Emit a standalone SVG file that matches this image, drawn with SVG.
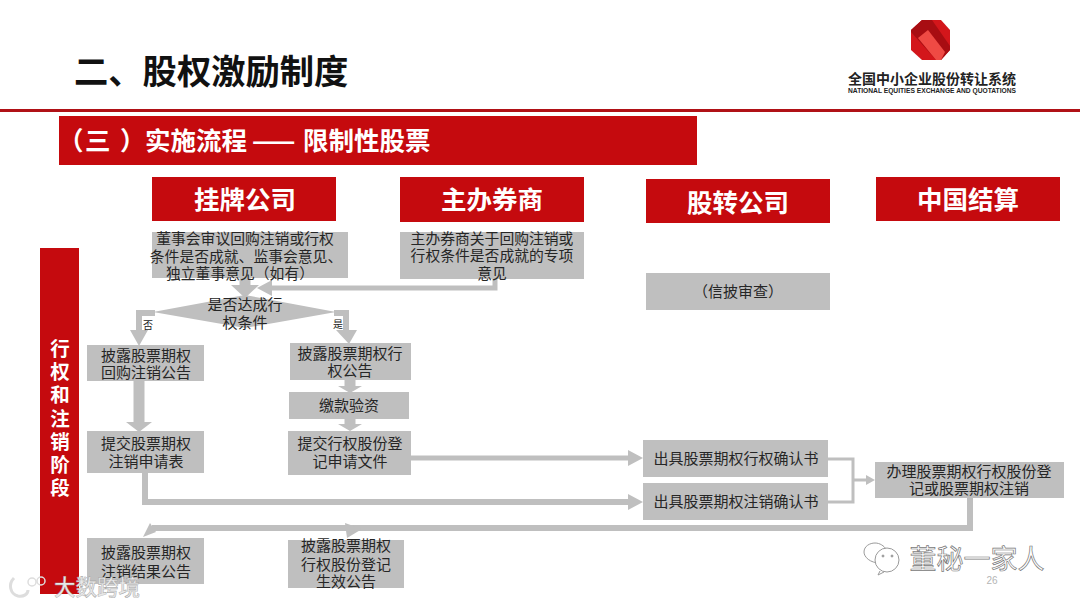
<svg xmlns="http://www.w3.org/2000/svg" width="1080" height="608" viewBox="0 0 1080 608">
<style>
text{font-family:"Noto Sans CJK SC","Noto Sans",sans-serif;text-anchor:middle}
.hd rect{fill:#c50a0e}
.hd text{fill:#fff;font-size:25.5px;font-weight:700}
.bx rect,.bx polygon{fill:#bfbfbf}
.bx text{fill:#262626;font-size:15px}
.c{fill:none;stroke:#bfbfbf;stroke-linejoin:miter}
.h{fill:#bfbfbf}
.mk{font-family:"Liberation Serif","Noto Sans CJK SC",serif;font-size:10px;fill:#222}
</style>
<rect width="1080" height="608" fill="#fff"/>
<g id="title">
<text x="74" y="84" style="text-anchor:start;font-size:34.3px;font-weight:700;fill:#111">二、股权激励制度</text>
<rect x="0" y="109" width="1080" height="3" fill="#b01116"/>
</g>
<g id="logo">
<polygon points="922,20 941,20 950,30 950,50 941,60 922,60 911,50 911,30" fill="#d3161b"/>
<polygon points="922,20 932,20 950,46 950,50 941,60 936,60 911,32 911,30" fill="#a80d12"/>
<polygon points="928,30 945,52 941,60 936,60 918,38" fill="#ef4a44"/>
<text x="932" y="84" style="font-size:14px;font-weight:700;fill:#222">全国中小企业股份转让系统</text>
<text x="932" y="93" style="font-size:7px;font-weight:700;fill:#222;font-family:'Liberation Sans',sans-serif" textLength="168" lengthAdjust="spacingAndGlyphs">NATIONAL EQUITIES EXCHANGE AND QUOTATIONS</text>
</g>
<g id="banner" class="hd">
<rect x="59" y="116" width="638" height="49"/>
<text y="150" style="text-anchor:start"><tspan x="58">（</tspan><tspan x="85">三</tspan><tspan x="120">）</tspan><tspan x="145">实施流程</tspan><tspan x="252">——</tspan><tspan x="303">限制性股票</tspan></text>
</g>
<g id="stage" class="hd">
<rect x="40" y="248" width="39" height="346"/>
<text style="font-size:19.5px"><tspan x="60" y="356">行</tspan><tspan x="60" y="379">权</tspan><tspan x="60" y="402">和</tspan><tspan x="60" y="426">注</tspan><tspan x="60" y="449">销</tspan><tspan x="60" y="472">阶</tspan><tspan x="60" y="495">段</tspan></text>
</g>
<g id="h1" class="hd"><rect x="152" y="177" width="184" height="44"/><text x="245" y="209">挂牌公司</text></g>
<g id="h2" class="hd"><rect x="400" y="177" width="184" height="45"/><text x="492" y="209">主办券商</text></g>
<g id="h3" class="hd"><rect x="646" y="179" width="184" height="44"/><text x="738" y="212">股转公司</text></g>
<g id="h4" class="hd"><rect x="876" y="177" width="184" height="44"/><text x="968" y="209">中国结算</text></g>
<g id="connectors">
<path class="c" stroke-width="11" d="M245 278V287"/>
<polygon class="h" points="231,285 259,285 245,298"/>
<path class="c" stroke-width="5" d="M495 279V288H268"/>
<polygon class="h" points="272,280 272,296 257,288"/>
<path class="c" stroke-width="6" d="M155 313H139V332"/>
<polygon class="h" points="130,330 148,330 139,346"/>
<path class="c" stroke-width="6" d="M334 313H346V332"/>
<polygon class="h" points="336,330 357,330 349,344"/>
<path class="c" stroke-width="11" d="M139 381V424"/>
<polygon class="h" points="126,422 152,422 139,432"/>
<path class="c" stroke-width="11" d="M350 380V387"/>
<polygon class="h" points="338,386 362,386 350,393"/>
<path class="c" stroke-width="11" d="M350 419V424"/>
<polygon class="h" points="338,424 362,424 350,431"/>
<path class="c" stroke-width="5" d="M411 458H632"/>
<polygon class="h" points="628,450 628,466 643,458"/>
<path class="c" stroke-width="6" d="M145 473V502H632"/>
<polygon class="h" points="628,494 628,510 643,502"/>
<path class="c" stroke-width="3" d="M828 459H853V502H828M853 480H868"/>
<polygon class="h" points="866,475 866,485 875,480"/>
<path class="c" stroke-width="6" d="M970 498V528H152"/>
<polygon class="h" points="150,523 156,532 143,537"/>
<polygon class="h" points="345,523 362,529 347,538"/>
</g>
<g id="n1" class="bx"><rect x="152" y="232" width="196" height="46"/><text style="font-size:14.8px"><tspan x="245" y="244">董事会审议回购注销或行权</tspan><tspan x="246" y="262">条件是否成就、监事会意见、</tspan><tspan x="240" y="279">独立董事意见（如有）</tspan></text></g>
<g id="n2" class="bx"><rect x="400" y="232" width="184" height="47"/><text style="font-size:14.8px"><tspan x="492" y="244">主办券商关于回购注销或</tspan><tspan x="492" y="261">行权条件是否成就的专项</tspan><tspan x="492" y="279">意见</tspan></text></g>
<g id="n3" class="bx"><rect x="646" y="273" width="184" height="37"/><text x="738" y="297">（信披审查）</text></g>
<g id="d1" class="bx"><polygon points="153,312 245,295 336,312 245,328"/><text><tspan x="245" y="310">是否达成行</tspan><tspan x="245" y="328">权条件</tspan></text></g>
<text x="148" y="329" class="mk">否</text>
<text x="338" y="328" class="mk">是</text>
<g id="n4" class="bx"><rect x="87" y="345" width="117" height="36"/><text><tspan x="146" y="361">披露股票期权</tspan><tspan x="146" y="378">回购注销公告</tspan></text></g>
<g id="n5" class="bx"><rect x="290" y="343" width="121" height="37"/><text><tspan x="350" y="359">披露股票期权行</tspan><tspan x="350" y="376">权公告</tspan></text></g>
<g id="n6" class="bx"><rect x="289" y="392" width="120" height="27"/><text x="349" y="411">缴款验资</text></g>
<g id="n7" class="bx"><rect x="87" y="431" width="117" height="42"/><text><tspan x="146" y="449">提交股票期权</tspan><tspan x="146" y="467">注销申请表</tspan></text></g>
<g id="n8" class="bx"><rect x="288" y="431" width="123" height="44"/><text><tspan x="350" y="449">提交行权股份登</tspan><tspan x="350" y="467">记申请文件</tspan></text></g>
<g id="n9" class="bx"><rect x="643" y="440" width="185" height="37"/><text x="736" y="464">出具股票期权行权确认书</text></g>
<g id="n10" class="bx"><rect x="643" y="483" width="185" height="37"/><text x="736" y="507">出具股票期权注销确认书</text></g>
<g id="n11" class="bx"><rect x="875" y="462" width="189" height="36"/><text><tspan x="969" y="477">办理股票期权行权股份登</tspan><tspan x="969" y="494">记或股票期权注销</tspan></text></g>
<g id="n12" class="bx"><rect x="87" y="538" width="117" height="46"/><text><tspan x="146" y="558">披露股票期权</tspan><tspan x="146" y="577">注销结果公告</tspan></text></g>
<g id="n13" class="bx"><rect x="288" y="540" width="116" height="48"/><text><tspan x="346" y="551">披露股票期权</tspan><tspan x="346" y="570">行权股份登记</tspan><tspan x="346" y="587">生效公告</tspan></text></g>
<g id="page"><text x="992" y="584" style="font-size:10px;fill:#b5b5b5;font-family:'Liberation Sans',sans-serif">26</text></g>
<g id="watermark-right" fill="none" stroke="#9a9a9a" stroke-width="1">
<path d="M880 563C870 563 864 557 864 552C864 546 870 543 875 543C880 543 884 546 886 549"/>
<circle cx="887" cy="560" r="12" fill="#fff"/>
<path d="M880 571L878 575L884 572"/>
<circle cx="883" cy="556" r="1" fill="#9a9a9a"/><circle cx="892" cy="556" r="1" fill="#9a9a9a"/>
<text x="977" y="569" style="font-size:27px;fill:#fff;stroke:#777;stroke-width:.7">董秘一家人</text>
</g>
<g id="watermark-left">
<path d="M14 578C8 584 10 594 18 596C24 597 28 594 28 590" fill="none" stroke="#ddd" stroke-width="3"/>
<circle cx="32" cy="582" r="4" fill="none" stroke="#ddd" stroke-width="1.5"/><circle cx="41" cy="581" r="4" fill="none" stroke="#ddd" stroke-width="1.5"/>
<text x="97" y="595" style="font-size:21.5px;fill:#e8e8e8;stroke:#999;stroke-width:.4;font-weight:500">大数跨境</text>
</g>
</svg>
